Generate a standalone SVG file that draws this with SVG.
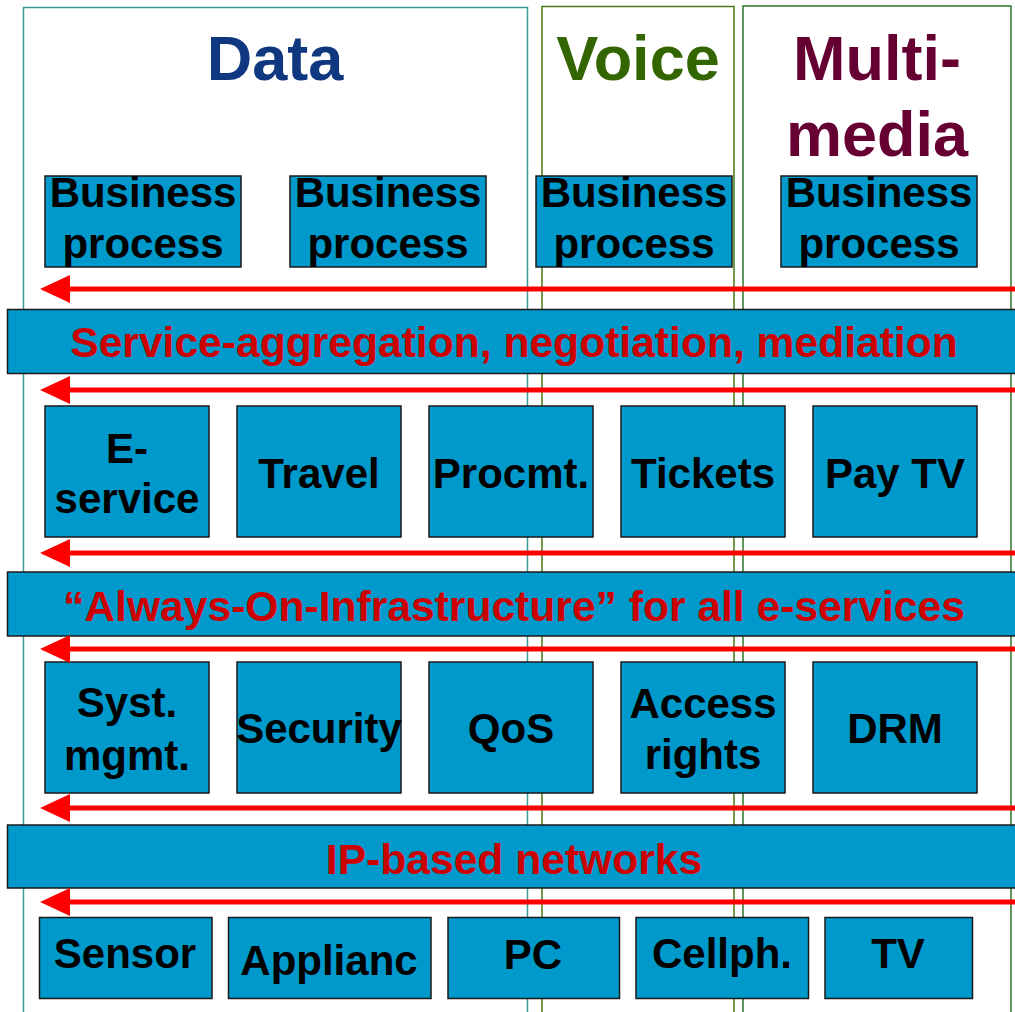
<svg xmlns="http://www.w3.org/2000/svg" width="1015" height="1012" viewBox="0 0 1015 1012">
<defs>
<style>
.col{fill:#ffffff;stroke-width:1.5}
.title{font-family:"Liberation Sans",Arial,sans-serif;font-weight:bold;font-size:63px;text-anchor:middle}
.box{fill:#0099cc;stroke:#1a1a1a;stroke-width:1.5}
.band{fill:#0099cc;stroke:#1a1a1a;stroke-width:1.5}
.t{font-family:"Liberation Sans",Arial,sans-serif;font-weight:bold;font-size:42px;text-anchor:middle;fill:#000000}
.bt{font-family:"Liberation Sans",Arial,sans-serif;font-weight:bold;font-size:42.6px;text-anchor:middle;fill:#cc0000}
.arr{stroke:#ff0000;stroke-width:5;fill:none;marker-end:url(#head)}
</style>
<marker id="head" markerUnits="userSpaceOnUse" markerWidth="30" markerHeight="28" viewBox="0 0 30 28" refX="2" refY="14" orient="auto">
<path d="M0,0 L30,14 L0,28 z" fill="#ff0000"/>
</marker>
</defs>
<rect width="1015" height="1012" fill="#ffffff"/>

<g id="col-data">
<rect class="col" x="23.5" y="7.5" width="504" height="1020" stroke="#3a9a9a"/>
<text class="title" x="275" y="80" fill="#103880">Data</text>
</g>
<g id="col-voice">
<rect class="col" x="542" y="6.5" width="192" height="1020" stroke="#437a14"/>
<text class="title" x="638" y="80" fill="#336600">Voice</text>
</g>
<g id="col-multimedia">
<rect class="col" x="743" y="6" width="268" height="1020" stroke="#2a772a"/>
<text class="title" x="877" y="80" fill="#660033">Multi-</text>
<text class="title" x="877" y="156" fill="#660033">media</text>
</g>

<g id="bp1"><rect class="box" x="45" y="176" width="196" height="91"/><text class="t" x="143" y="207">Business</text><text class="t" x="143" y="258">process</text></g>
<g id="bp2"><rect class="box" x="290" y="176" width="196" height="91"/><text class="t" x="388" y="207">Business</text><text class="t" x="388" y="258">process</text></g>
<g id="bp3"><rect class="box" x="536" y="176" width="196" height="91"/><text class="t" x="634" y="207">Business</text><text class="t" x="634" y="258">process</text></g>
<g id="bp4"><rect class="box" x="781" y="176" width="196" height="91"/><text class="t" x="879" y="207">Business</text><text class="t" x="879" y="258">process</text></g>

<g id="band-service"><rect class="band" x="7.5" y="309.5" width="1020" height="64"/><text class="bt" x="514" y="357">Service-aggregation, negotiation, mediation</text></g>

<g id="s-eservice"><rect class="box" x="45" y="406" width="164" height="131"/><text class="t" x="127" y="463">E-</text><text class="t" x="127" y="513">service</text></g>
<g id="s-travel"><rect class="box" x="237" y="406" width="164" height="131"/><text class="t" x="319" y="488">Travel</text></g>
<g id="s-procmt"><rect class="box" x="429" y="406" width="164" height="131"/><text class="t" x="511" y="488">Procmt.</text></g>
<g id="s-tickets"><rect class="box" x="621" y="406" width="164" height="131"/><text class="t" x="703" y="488">Tickets</text></g>
<g id="s-paytv"><rect class="box" x="813" y="406" width="164" height="131"/><text class="t" x="895" y="488">Pay TV</text></g>

<g id="band-infra"><rect class="band" x="7.5" y="572" width="1020" height="64"/><text class="bt" x="514" y="621">“Always-On-Infrastructure” for all e-services</text></g>

<g id="i-systmgmt"><rect class="box" x="45" y="662" width="164" height="131"/><text class="t" x="127" y="717">Syst.</text><text class="t" x="127" y="770">mgmt.</text></g>
<g id="i-security"><rect class="box" x="237" y="662" width="164" height="131"/><text class="t" x="319" y="743">Security</text></g>
<g id="i-qos"><rect class="box" x="429" y="662" width="164" height="131"/><text class="t" x="511" y="743">QoS</text></g>
<g id="i-access"><rect class="box" x="621" y="662" width="164" height="131"/><text class="t" x="703" y="718">Access</text><text class="t" x="703" y="769">rights</text></g>
<g id="i-drm"><rect class="box" x="813" y="662" width="164" height="131"/><text class="t" x="895" y="743">DRM</text></g>

<g id="band-ip"><rect class="band" x="7.5" y="825" width="1020" height="63"/><text class="bt" x="514" y="874">IP-based networks</text></g>

<g id="d-sensor"><rect class="box" x="39.5" y="917.5" width="172.5" height="81"/><text class="t" x="125" y="968">Sensor</text></g>
<g id="d-applianc"><rect class="box" x="228.5" y="917.5" width="202.5" height="81"/><text class="t" x="329" y="975">Applianc</text></g>
<g id="d-pc"><rect class="box" x="448" y="917.5" width="171.5" height="81"/><text class="t" x="533" y="969">PC</text></g>
<g id="d-cellph"><rect class="box" x="636" y="917.5" width="172.5" height="81"/><text class="t" x="722" y="968">Cellph.</text></g>
<g id="d-tv"><rect class="box" x="825" y="917.5" width="147.5" height="81"/><text class="t" x="898" y="968">TV</text></g>

<g id="connectors">
<line class="arr" x1="1020" y1="289" x2="68" y2="289"/>
<line class="arr" x1="1020" y1="390" x2="68" y2="390"/>
<line class="arr" x1="1020" y1="553" x2="68" y2="553"/>
<line class="arr" x1="1020" y1="649" x2="68" y2="649"/>
<line class="arr" x1="1020" y1="808" x2="68" y2="808"/>
<line class="arr" x1="1020" y1="902" x2="68" y2="902"/>
</g>
</svg>
